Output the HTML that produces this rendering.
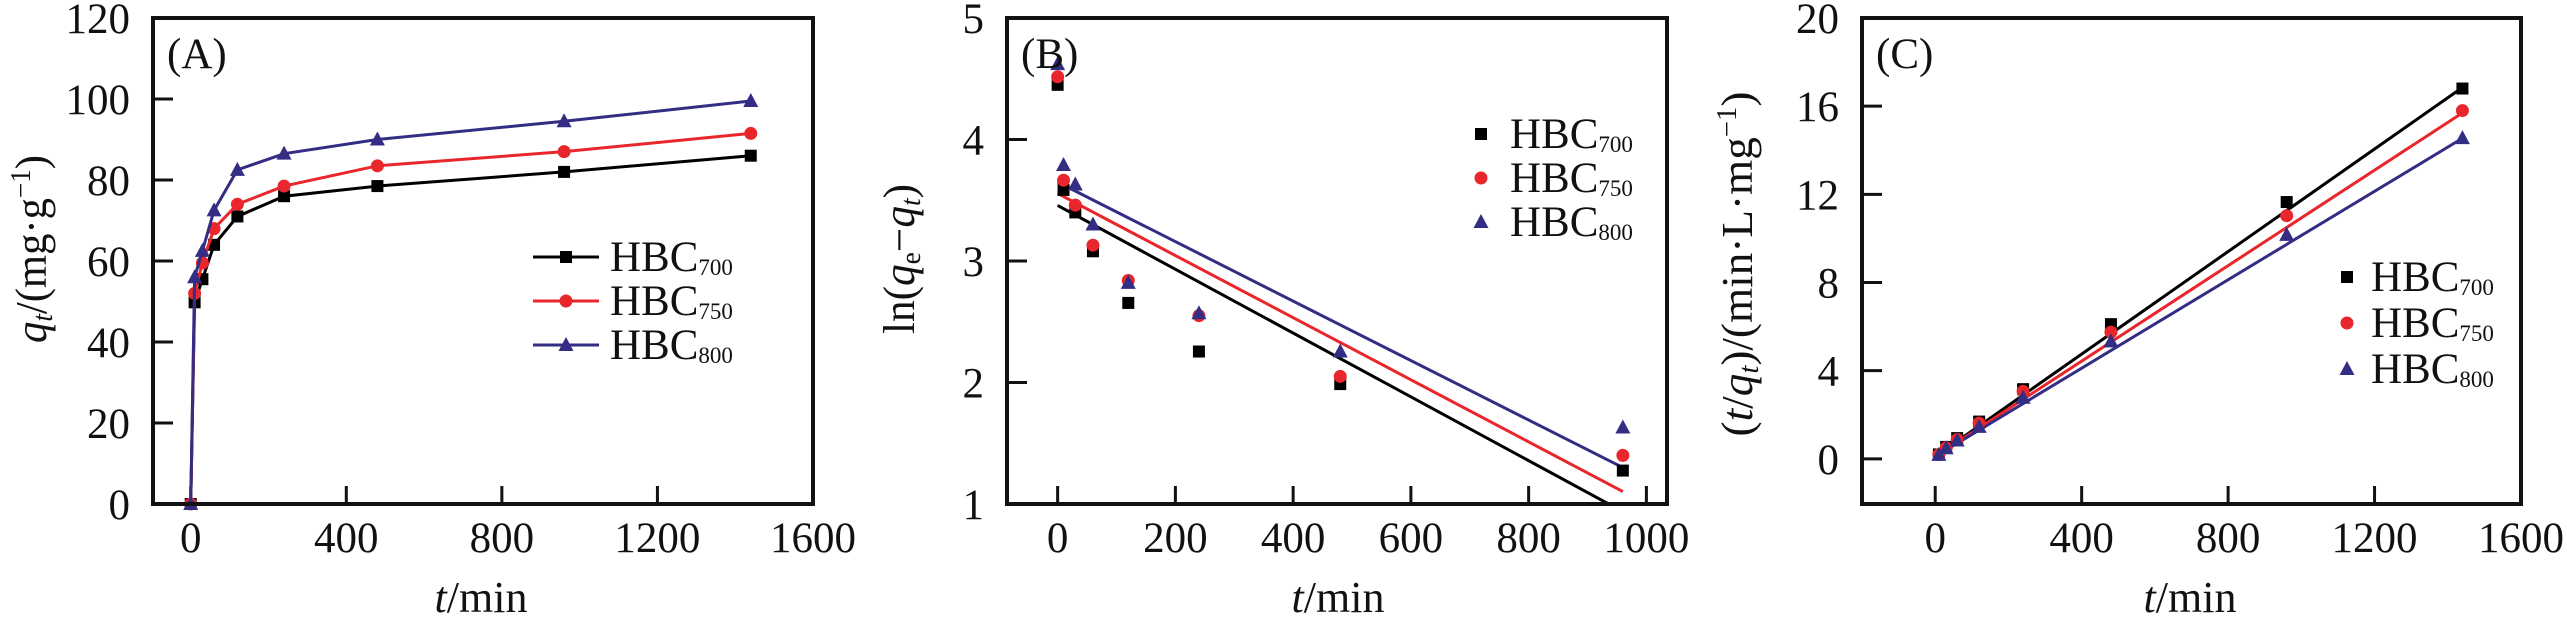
<!DOCTYPE html>
<html><head><meta charset="utf-8"><style>
html,body{margin:0;padding:0;background:#fff;}
svg, svg text, svg tspan{font-family:"Liberation Serif","Times New Roman",Times,serif;}
svg{display:block;}
</style></head><body>
<svg id="fig" width="2567" height="630" viewBox="0 0 2567 630" xmlns="http://www.w3.org/2000/svg" font-family="Liberation Serif, Times New Roman, serif"></svg>
<script>
// ---- Panel A data (qt vs t) ----
const timesA = [0, 10, 30, 60, 120, 240, 480, 960, 1440];
const qA700 = [0, 49.8, 55.5, 64, 71, 76, 78.5, 82, 86];
const qA750 = [0, 52, 59.5, 68, 74, 78.5, 83.5, 87, 91.5];
const qA800 = [0, 56, 62.5, 72.5, 82.5, 86.5, 90, 94.5, 99.5];
const ticksAx = [0, 400, 800, 1200, 1600];
const ticksAy = [0, 20, 40, 60, 80, 100, 120];
// ---- Panel B data (pseudo-first-order) ----
const timesB = [0, 10, 30, 60, 120, 240, 480, 960];
const lnB700 = [4.45, 3.585, 3.40, 3.08, 2.655, 2.255, 1.987, 1.275];
const lnB750 = [4.516, 3.665, 3.46, 3.13, 2.84, 2.55, 2.05, 1.40];
const lnB800 = [4.62, 3.79, 3.63, 3.30, 2.82, 2.57, 2.255, 1.63];
const fitB_intercept = [3.457, 3.556, 3.649];
const fitB_slope = [-0.002625, -0.002556, -0.002447];
const ticksBx = [0, 200, 400, 600, 800, 1000];
const ticksBy = [1, 2, 3, 4, 5];
// ---- Panel C data (pseudo-second-order) ----
const timesC = [10, 30, 60, 120, 240, 480, 960, 1440];
const tqC700 = [0.2, 0.54, 0.94, 1.69, 3.16, 6.11, 11.65, 16.8];
const tqC750 = [0.19, 0.5, 0.88, 1.62, 3.06, 5.75, 11.03, 15.8];
const tqC800 = [0.18, 0.48, 0.83, 1.45, 2.77, 5.33, 10.16, 14.55];
const fitC_intercept = [0.1, 0.1, 0.1];
const fitC_slope = [0.01163, 0.01083, 0.01003];
const ticksCx = [0, 400, 800, 1200, 1600];
const ticksCy = [0, 4, 8, 12, 16, 20];
const seriesNames = ['700', '750', '800'];
const colors = ['#000000', '#e8262b', '#332d84'];

const NS = 'http://www.w3.org/2000/svg';
const FF = '"Liberation Serif", "Times New Roman", Times, serif';
const svg = document.getElementById('fig');
function mk(tag, attrs, parent) {
  const e = document.createElementNS(NS, tag);
  for (const k in attrs) e.setAttribute(k, attrs[k]);
  if (tag === 'text') e.style.fontFamily = FF;
  (parent || svg).appendChild(e);
  return e;
}
function marker(g, kind, x, y, color) {
  let m;
  if (kind === 0) m = mk('rect', {x: x - 6, y: y - 6, width: 12, height: 12, fill: color}, g);
  else if (kind === 1) m = mk('circle', {cx: x, cy: y, r: 6.5, fill: color}, g);
  else m = mk('polygon', {points: `${x},${y - 8} ${x + 7.5},${y + 6} ${x - 7.5},${y + 6}`, fill: color}, g);
  
  
  return m;
}
function panel(cfg) {
  const g = mk('g', {});
  
  
  const X = v => cfg.x0 + (v - cfg.xmin) / (cfg.xmax - cfg.xmin) * (cfg.x1 - cfg.x0);
  const Y = v => cfg.y1 - (v - cfg.ymin) / (cfg.ymax - cfg.ymin) * (cfg.y1 - cfg.y0);
  const clipId = 'clip-' + cfg.name;
  const cp = mk('clipPath', {id: clipId}, g);
  mk('rect', {x: cfg.x0, y: cfg.y0, width: cfg.x1 - cfg.x0, height: cfg.y1 - cfg.y0}, cp);
  cfg.xt.forEach(v => {
    const x = X(v);
    if (x > cfg.x0 + 3 && x < cfg.x1 - 3) {
      const t = mk('line', {x1: x, x2: x, y1: cfg.y1, y2: cfg.y1 - 18, stroke: '#111', 'stroke-width': 3}, g);
      
      
    }
    const l = mk('text', {x: x, y: 552, 'font-size': 43, 'text-anchor': 'middle', fill: '#111'}, g);
    l.textContent = v;
    
    
  });
  cfg.yt.forEach(v => {
    const y = Y(v);
    if (y > cfg.y0 + 3 && y < cfg.y1 - 3) {
      const t = mk('line', {x1: cfg.x0, x2: cfg.x0 + 20, y1: y, y2: y, stroke: '#111', 'stroke-width': 3}, g);
      
      
    }
    const l = mk('text', {x: cfg.x0 - 23, y: y + 15, 'font-size': 43, 'text-anchor': 'end', fill: '#111'}, g);
    l.textContent = v;
    
    
  });
  const dg = mk('g', {'clip-path': `url(#${clipId})`}, g);
  if (cfg.fits) {
    cfg.fits.forEach((f, i) => {
      const l = mk('line', {x1: X(f.t0), y1: Y(f.b + f.m * f.t0), x2: X(f.t1), y2: Y(f.b + f.m * f.t1), stroke: colors[i], 'stroke-width': 3}, dg);
      
      
    });
  }
  cfg.series.forEach((s, i) => {
    const sg = mk('g', {}, g);
    
    
    if (cfg.connect) {
      const p = mk('polyline', {points: cfg.t.map((t, j) => X(t) + ',' + Y(s[j])).join(' '), fill: 'none', stroke: colors[i], 'stroke-width': 3}, sg);
      
      
    }
    cfg.t.forEach((t, j) => marker(sg, i, X(t), Y(s[j]), colors[i]));
  });
  const fr = mk('rect', {x: cfg.x0, y: cfg.y0, width: cfg.x1 - cfg.x0, height: cfg.y1 - cfg.y0, fill: 'none', stroke: '#111', 'stroke-width': 4}, g);
  
  
  const lg = mk('g', {}, g);
  
  
  seriesNames.forEach((n, i) => {
    const by = cfg.legY + i * cfg.legDy;
    const eg = mk('g', {}, lg);
    
    
    if (cfg.connect) mk('line', {x1: cfg.legMx - 33, x2: cfg.legMx + 33, y1: by - 14, y2: by - 14, stroke: colors[i], 'stroke-width': 3}, eg);
    marker(eg, i, cfg.legMx, by - 14, colors[i]);
    const t = mk('text', {x: cfg.legTx, y: by, 'font-size': 43, fill: '#111'}, eg);
    t.textContent = 'HBC';
    const sub = mk('tspan', {'font-size': 23, dy: 4}, t);
    sub.textContent = n;
  });
  const pl = mk('text', {x: cfg.x0 + 14, y: 68, 'font-size': 43, fill: '#111'}, g);
  pl.textContent = cfg.letter;
  
  
  const xt = mk('text', {x: cfg.xtx, y: 612, 'font-size': 44, 'text-anchor': 'middle', fill: '#111'}, g);
  xt.innerHTML = '<tspan font-style="italic">t</tspan>/min';
  
  
  const yt = mk('text', {x: 0, y: 0, 'font-size': 44, 'text-anchor': 'middle', fill: '#111', transform: `translate(${cfg.ytx},${cfg.yty}) rotate(-90)`, textLength: cfg.ytLen, lengthAdjust: 'spacingAndGlyphs'}, g);
  yt.innerHTML = cfg.ytitle;
  
  
}
panel({name: 'panel-a', letter: '(A)', x0: 153, x1: 813, y0: 18, y1: 504, xmin: -97, xmax: 1600, ymin: 0, ymax: 120,
  xt: ticksAx, yt: ticksAy, t: timesA, series: [qA700, qA750, qA800], connect: true,
  legMx: 566, legTx: 610, legY: 271, legDy: 44, xtx: 481, ytx: 46, yty: 249, ytLen: 188,
  ytitle: '<tspan font-style="italic">q</tspan><tspan font-style="italic" font-size="28" dy="6">t</tspan><tspan dy="-6">/(mg·g</tspan><tspan font-size="28" dy="-16">−1</tspan><tspan dy="16">)</tspan>'});
panel({name: 'panel-b', letter: '(B)', x0: 1007, x1: 1667, y0: 18, y1: 504, xmin: -86, xmax: 1035, ymin: 1, ymax: 5,
  xt: ticksBx, yt: ticksBy, t: timesB, series: [lnB700, lnB750, lnB800], connect: false,
  fits: fitB_intercept.map((b, i) => ({b: b, m: fitB_slope[i], t0: 0, t1: 960})),
  legMx: 1481, legTx: 1510, legY: 148, legDy: 44, xtx: 1338, ytx: 914, yty: 259, ytLen: 150,
  ytitle: 'ln(<tspan font-style="italic">q</tspan><tspan font-size="28" dy="6">e</tspan><tspan dy="-6">−</tspan><tspan font-style="italic">q</tspan><tspan font-style="italic" font-size="28" dy="6">t</tspan><tspan dy="-6">)</tspan>'});
panel({name: 'panel-c', letter: '(C)', x0: 1862, x1: 2521, y0: 18, y1: 504, xmin: -200, xmax: 1600, ymin: -2.05, ymax: 20,
  xt: ticksCx, yt: ticksCy, t: timesC, series: [tqC700, tqC750, tqC800], connect: false,
  fits: fitC_intercept.map((b, i) => ({b: b, m: fitC_slope[i], t0: 5, t1: 1440})),
  legMx: 2347, legTx: 2371, legY: 291, legDy: 46, xtx: 2190, ytx: 1752, yty: 264, ytLen: 345,
  ytitle: '(<tspan font-style="italic">t</tspan>/<tspan font-style="italic">q</tspan><tspan font-style="italic" font-size="28" dy="6">t</tspan><tspan dy="-6">)/(min·L·mg</tspan><tspan font-size="28" dy="-16">−1</tspan><tspan dy="16">)</tspan>'});
</script>
</body></html>
